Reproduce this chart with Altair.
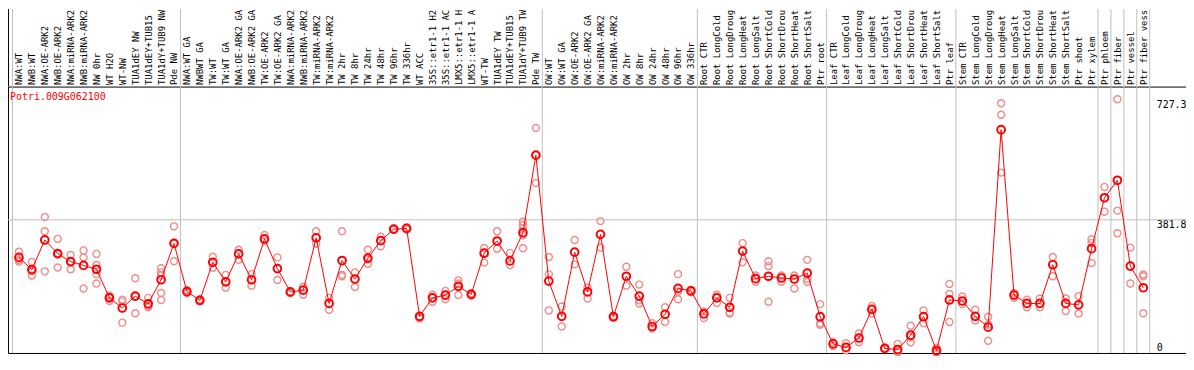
import json
import altair as alt
import pandas as pd

gene = "Potri.009G062100"

categories = [
    "NWA:WT", "NWB:WT", "NWA:OE-ARK2", "NWB:OE-ARK2", "NWA:miRNA-ARK2", "NWB:miRNA-ARK2",
    "NW 0hr", "WT H2O", "WT-NW", "TUA1dEY NW", "TUA1dEY+TUB15", "TUA1dY+TUB9 NW", "Pde NW",
    "NWA:WT GA", "NWBWT GA", "TW:WT", "TW:WT GA", "NWA:OE-ARK2 GA", "NWB:OE-ARK2 GA",
    "TW:OE-ARK2", "TW:OE-ARK2 GA", "NWA:miRNA-ARK2", "NWB:miRNA-ARK2", "TW:miRNA-ARK2",
    "TW:miRNA-ARK2", "TW 2hr", "TW 8hr", "TW 24hr", "TW 48hr", "TW 96hr", "TW 336hr",
    "WT ACC", "35S::etr1-1 H2", "35S::etr1-1 AC", "LMX5::etr1-1 H", "LMX5::etr1-1 A",
    "WT-TW", "TUA1dEY TW", "TUA1dEY+TUB15", "TUA1dY+TUB9 TW", "Pde TW",
    "OW:WT", "OW:WT GA", "OW:OE-ARK2", "OW:OE-ARK2 GA", "OW:miRNA-ARK2", "OW:miRNA-ARK2",
    "OW 2hr", "OW 8hr", "OW 24hr", "OW 48hr", "OW 96hr", "OW 336hr",
    "Root CTR", "Root LongCold", "Root LongDroug", "Root LongHeat", "Root LongSalt",
    "Root ShortCold", "Root ShortDrou", "Root ShortHeat", "Root ShortSalt", "Ptr root",
    "Leaf CTR", "Leaf LongCold", "Leaf LongDroug", "Leaf LongHeat", "Leaf LongSalt",
    "Leaf ShortCold", "Leaf ShortDrou", "Leaf ShortHeat", "Leaf ShortSalt", "Ptr leaf",
    "Stem CTR", "Stem LongCold", "Stem LongDroug", "Stem LongHeat", "Stem LongSalt",
    "Stem ShortCold", "Stem ShortDrou", "Stem ShortHeat", "Stem ShortSalt", "Ptr shoot",
    "Ptr xylem", "Ptr phloem", "Ptr fiber", "Ptr vessel", "Ptr fiber vess",
]

# number of consecutive categories in each separated block
group_sizes = [13, 28, 12, 10, 10, 11, 1, 1, 1, 1]

means = [
    274, 239, 324, 285, 262, 251, 240, 158, 129, 163, 141, 210, 314,
    176, 151, 260, 204, 284, 210, 327, 242, 175, 180, 330, 142, 265, 212, 272, 322, 355,
    357, 105, 158, 166, 191, 168, 286, 321, 264, 345, 567,
    206, 105, 289, 175, 340, 104, 220, 163, 76, 111, 185, 178,
    112, 158, 131, 292, 213, 220, 215, 212, 229, 104,
    26, 16, 43, 125, 13, 10, 51, 104, 7, 152,
    149, 105, 74, 640, 166, 142, 142, 253, 142, 138,
    299, 445, 495, 249, 187,
]

replicates = [
    [290, 267, 262], [261, 235, 222], [390, 349, 234], [327, 283, 245], [281, 262, 240],
    [294, 274, 185], [284, 252, 226, 199], [165, 160, 149], [153, 148, 87], [214, 162, 114],
    [158, 134, 131], [243, 231, 222, 172, 152], [363, 314, 263],
    [180, 172], [154, 148], [276, 244], [224, 187], [296, 267], [226, 193], [338, 322],
    [274, 209], [176, 172], [190, 167], [349, 313], [158, 124], [349, 224, 220], [231, 189],
    [296, 256, 268], [333, 306], [356, 353],
    [360, 354], [102, 99], [167, 147], [178, 154], [208, 199, 166], [171, 165], [301, 259],
    [349, 299], [287, 252], [376, 367, 358, 338, 300], [645, 567, 487],
    [275, 226, 122], [133, 76], [324, 254], [188, 156], [378, 302], [106, 101], [247, 193],
    [196, 151, 142], [85, 70], [131, 89], [226, 176, 154], [181, 174],
    [119, 100], [167, 143], [158, 116, 113], [315, 260], [222, 204], [263, 249, 147],
    [222, 204], [222, 185], [267, 213, 204], [140, 85, 81],
    [31, 20], [28, 8], [56, 31], [135, 113], [15, 11], [26, 4, 2], [78, 45, 31], [122, 85],
    [15, 4, 0], [198, 169, 89],
    [162, 140], [124, 93], [104, 81, 35], [716, 683, 517], [172, 158], [153, 131],
    [156, 131], [275, 220], [156, 120], [163, 113],
    [326, 315, 258], [476, 405], [727.3, 408, 343], [302, 199], [225, 220, 114],
]

# ---------------------------------------------------------------- tables
n = len(categories)
mean_df = pd.DataFrame({"idx": list(range(n)), "name": categories, "value": means})
rep_df = pd.DataFrame(
    [{"idx": i, "value": v} for i, reps in enumerate(replicates) for v in reps]
)
bounds = [-0.5]
acc = 0
for g in group_sizes:
    acc += g
    bounds.append(acc - 0.5)
bound_df = pd.DataFrame({"idx": bounds})

max_val = max(max(r) for r in replicates)
y_top = max_val * 1.05
half = y_top / 2
grid_df = pd.DataFrame({"value": [half]})
tick_vals = [0, round(half, 1), max_val]

# ---------------------------------------------------------------- layout
W, H, PAD_TOP = 1185, 268, 78
BAND = 13
x0 = -11 / BAND
MONO = "DejaVu Sans Mono"

label_names = json.dumps([c[:14] for c in categories])

xscale = alt.Scale(domain=[x0, x0 + W / BAND], nice=False, zero=False)
yscale = alt.Scale(domain=[0, y_top], nice=False, zero=True)

x_axis = alt.Axis(
    orient="top", values=list(range(n)), labelExpr=f"{label_names}[datum.value]",
    labelAngle=270, labelAlign="left", labelBaseline="middle", labelPadding=2,
    labelFont=MONO, labelFontSize=9, labelColor="black", labelLimit=200,
    labelOverlap=False, labelFlush=False, labelBound=False,
    ticks=False, domain=False, grid=False, title=None,
)
y_axis = alt.Axis(
    orient="right", offset=-30, values=tick_vals,
    labelExpr="datum.value == 0 ? '0' : format(datum.value, '.1f')",
    labelAlign="left", labelPadding=0,
    labelBaseline=alt.condition("datum.value == 0", alt.value("bottom"), alt.value("top")),
    labelFont=MONO, labelFontSize=10, labelColor="black",
    labelOverlap=False, labelFlush=False, labelBound=False,
    ticks=False, domain=False, grid=False, title=None,
)

X = alt.X("idx:Q", scale=xscale, axis=x_axis)
Y = alt.Y("value:Q", scale=yscale, axis=y_axis)

group_lines = alt.Chart(bound_df).mark_rule(color="#c0c0c0", strokeWidth=1).encode(
    x=X, y=alt.value(-PAD_TOP), y2=alt.value(H),
)
left_edge = alt.Chart(bound_df.head(1)).mark_rule(color="black", strokeWidth=1).encode(
    x=alt.value(0.5), y=alt.value(-PAD_TOP), y2=alt.value(0)
)
mid_line = alt.Chart(grid_df).mark_rule(color="#c0c0c0", strokeWidth=1).encode(y=Y)
rep_pts = alt.Chart(rep_df).mark_point(
    shape="circle", filled=False, color="#f08c8c", size=50, strokeWidth=1.4, opacity=1
).encode(x=X, y=Y)
mean_line = alt.Chart(mean_df).mark_line(color="#ff0000", strokeWidth=1).encode(x=X, y=Y)
mean_pts = alt.Chart(mean_df).mark_point(
    shape="circle", filled=False, color="#ff0000", size=60, strokeWidth=2, opacity=1
).encode(x=X, y=Y)
title = alt.Chart(pd.DataFrame({"gene": [gene]})).mark_text(
    font=MONO, fontSize=10, color="#ff0000", align="left", baseline="middle"
).encode(x=alt.value(2), y=alt.value(11), text="gene:N")

chart = alt.layer(
    group_lines, left_edge, mid_line, rep_pts, mean_line, mean_pts, title
).properties(
    width=W, height=H,
    autosize=alt.AutoSizeParams(type="none"),
    padding={"left": 0, "top": PAD_TOP, "right": 0, "bottom": 2},
).configure_view(stroke="black", strokeWidth=1)

chart.save("out.html", embed_options={"renderer": "svg", "actions": False})
